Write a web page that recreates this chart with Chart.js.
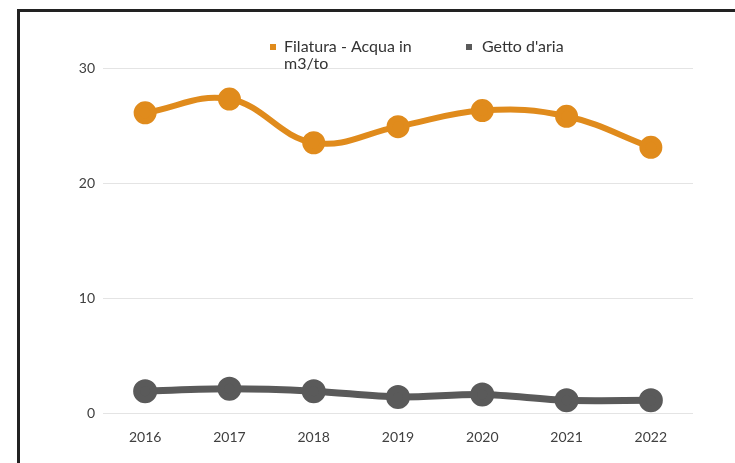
<!DOCTYPE html>
<html>
<head>
<meta charset="utf-8">
<script src="https://cdn.jsdelivr.net/npm/chart.js@4.4.1/dist/chart.umd.min.js"></script>
<style>
  html, body { margin: 0; padding: 0; background: #fff; }
  #wrap { position: relative; width: 735px; height: 463px; }
  #frame { position: absolute; left: 17px; top: 9px; right: 0; bottom: 0;
           border-top: 3px solid #222; border-left: 3px solid #222; pointer-events: none; }
  canvas { position: absolute; left: 0; top: 0; }
</style>
</head>
<body>
<div id="wrap">
  <canvas id="c" width="735" height="463"></canvas>
  <div id="frame"></div>
</div>
<script>
const categories = ['2016', '2017', '2018', '2019', '2020', '2021', '2022'];
const seriesNames = [['Filatura - Acqua in', 'm3/to'], ["Getto d'aria"]];
const filaturaAcqua = [26.1, 27.3, 23.5, 24.9, 26.3, 25.8, 23.1];
const gettoAria = [1.9, 2.1, 1.9, 1.4, 1.6, 1.1, 1.1];
const yTicks = [0, 10, 20, 30];

const colors = ['#E08B1C', '#5A5A5A'];
const FONT = 'Lato, "Open Sans", sans-serif';

const legendPlugin = {
  id: 'customLegend',
  afterDraw(chart) {
    const ctx = chart.ctx;
    const pos = [{ box: 270, text: 284 }, { box: 466, text: 482 }];
    ctx.save();
    ctx.font = '16px ' + FONT;
    ctx.textBaseline = 'middle';
    ctx.textAlign = 'left';
    chart.data.datasets.forEach((ds, i) => {
      const lines = seriesNames[i];
      ctx.fillStyle = ds.borderColor;
      ctx.fillRect(pos[i].box, 44, 6, 6);
      ctx.fillStyle = '#333333';
      lines.forEach((t, j) => ctx.fillText(t, pos[i].text, 47 + j * 17));
    });
    ctx.restore();
  }
};

new Chart(document.getElementById('c'), {
  type: 'line',
  data: {
    labels: categories,
    datasets: [
      { label: seriesNames[0].join(' '), data: filaturaAcqua, borderColor: colors[0], backgroundColor: colors[0],
        borderWidth: 6, pointRadius: 8.5, pointHoverRadius: 8.5, tension: 0.4 },
      { label: seriesNames[1].join(' '), data: gettoAria, borderColor: colors[1], backgroundColor: colors[1],
        borderWidth: 7, pointRadius: 8.5, pointHoverRadius: 8.5, tension: 0.3 }
    ]
  },
  options: {
    responsive: false,
    animation: false,
    layout: { padding: { top: 68, right: 42, bottom: 0, left: 0 } },
    plugins: { legend: { display: false }, tooltip: { enabled: false } },
    scales: {
      x: {
        offset: true,
        grid: { display: false, drawTicks: false },
        border: { display: false },
        afterFit(scale) { scale.height = 50; },
        ticks: { padding: 16, color: '#404040', font: { family: FONT, size: 14 } }
      },
      y: {
        min: 0, max: 30,
        afterBuildTicks(scale) { scale.ticks = yTicks.map(v => ({ value: v })); },
        afterFit(scale) { scale.width = 103; },
        grid: { color: '#E4E4E4', lineWidth: 1, drawTicks: false },
        border: { display: false },
        ticks: { padding: 8, color: '#404040', font: { family: FONT, size: 14 } }
      }
    }
  },
  plugins: [legendPlugin]
});
</script>
</body>
</html>
